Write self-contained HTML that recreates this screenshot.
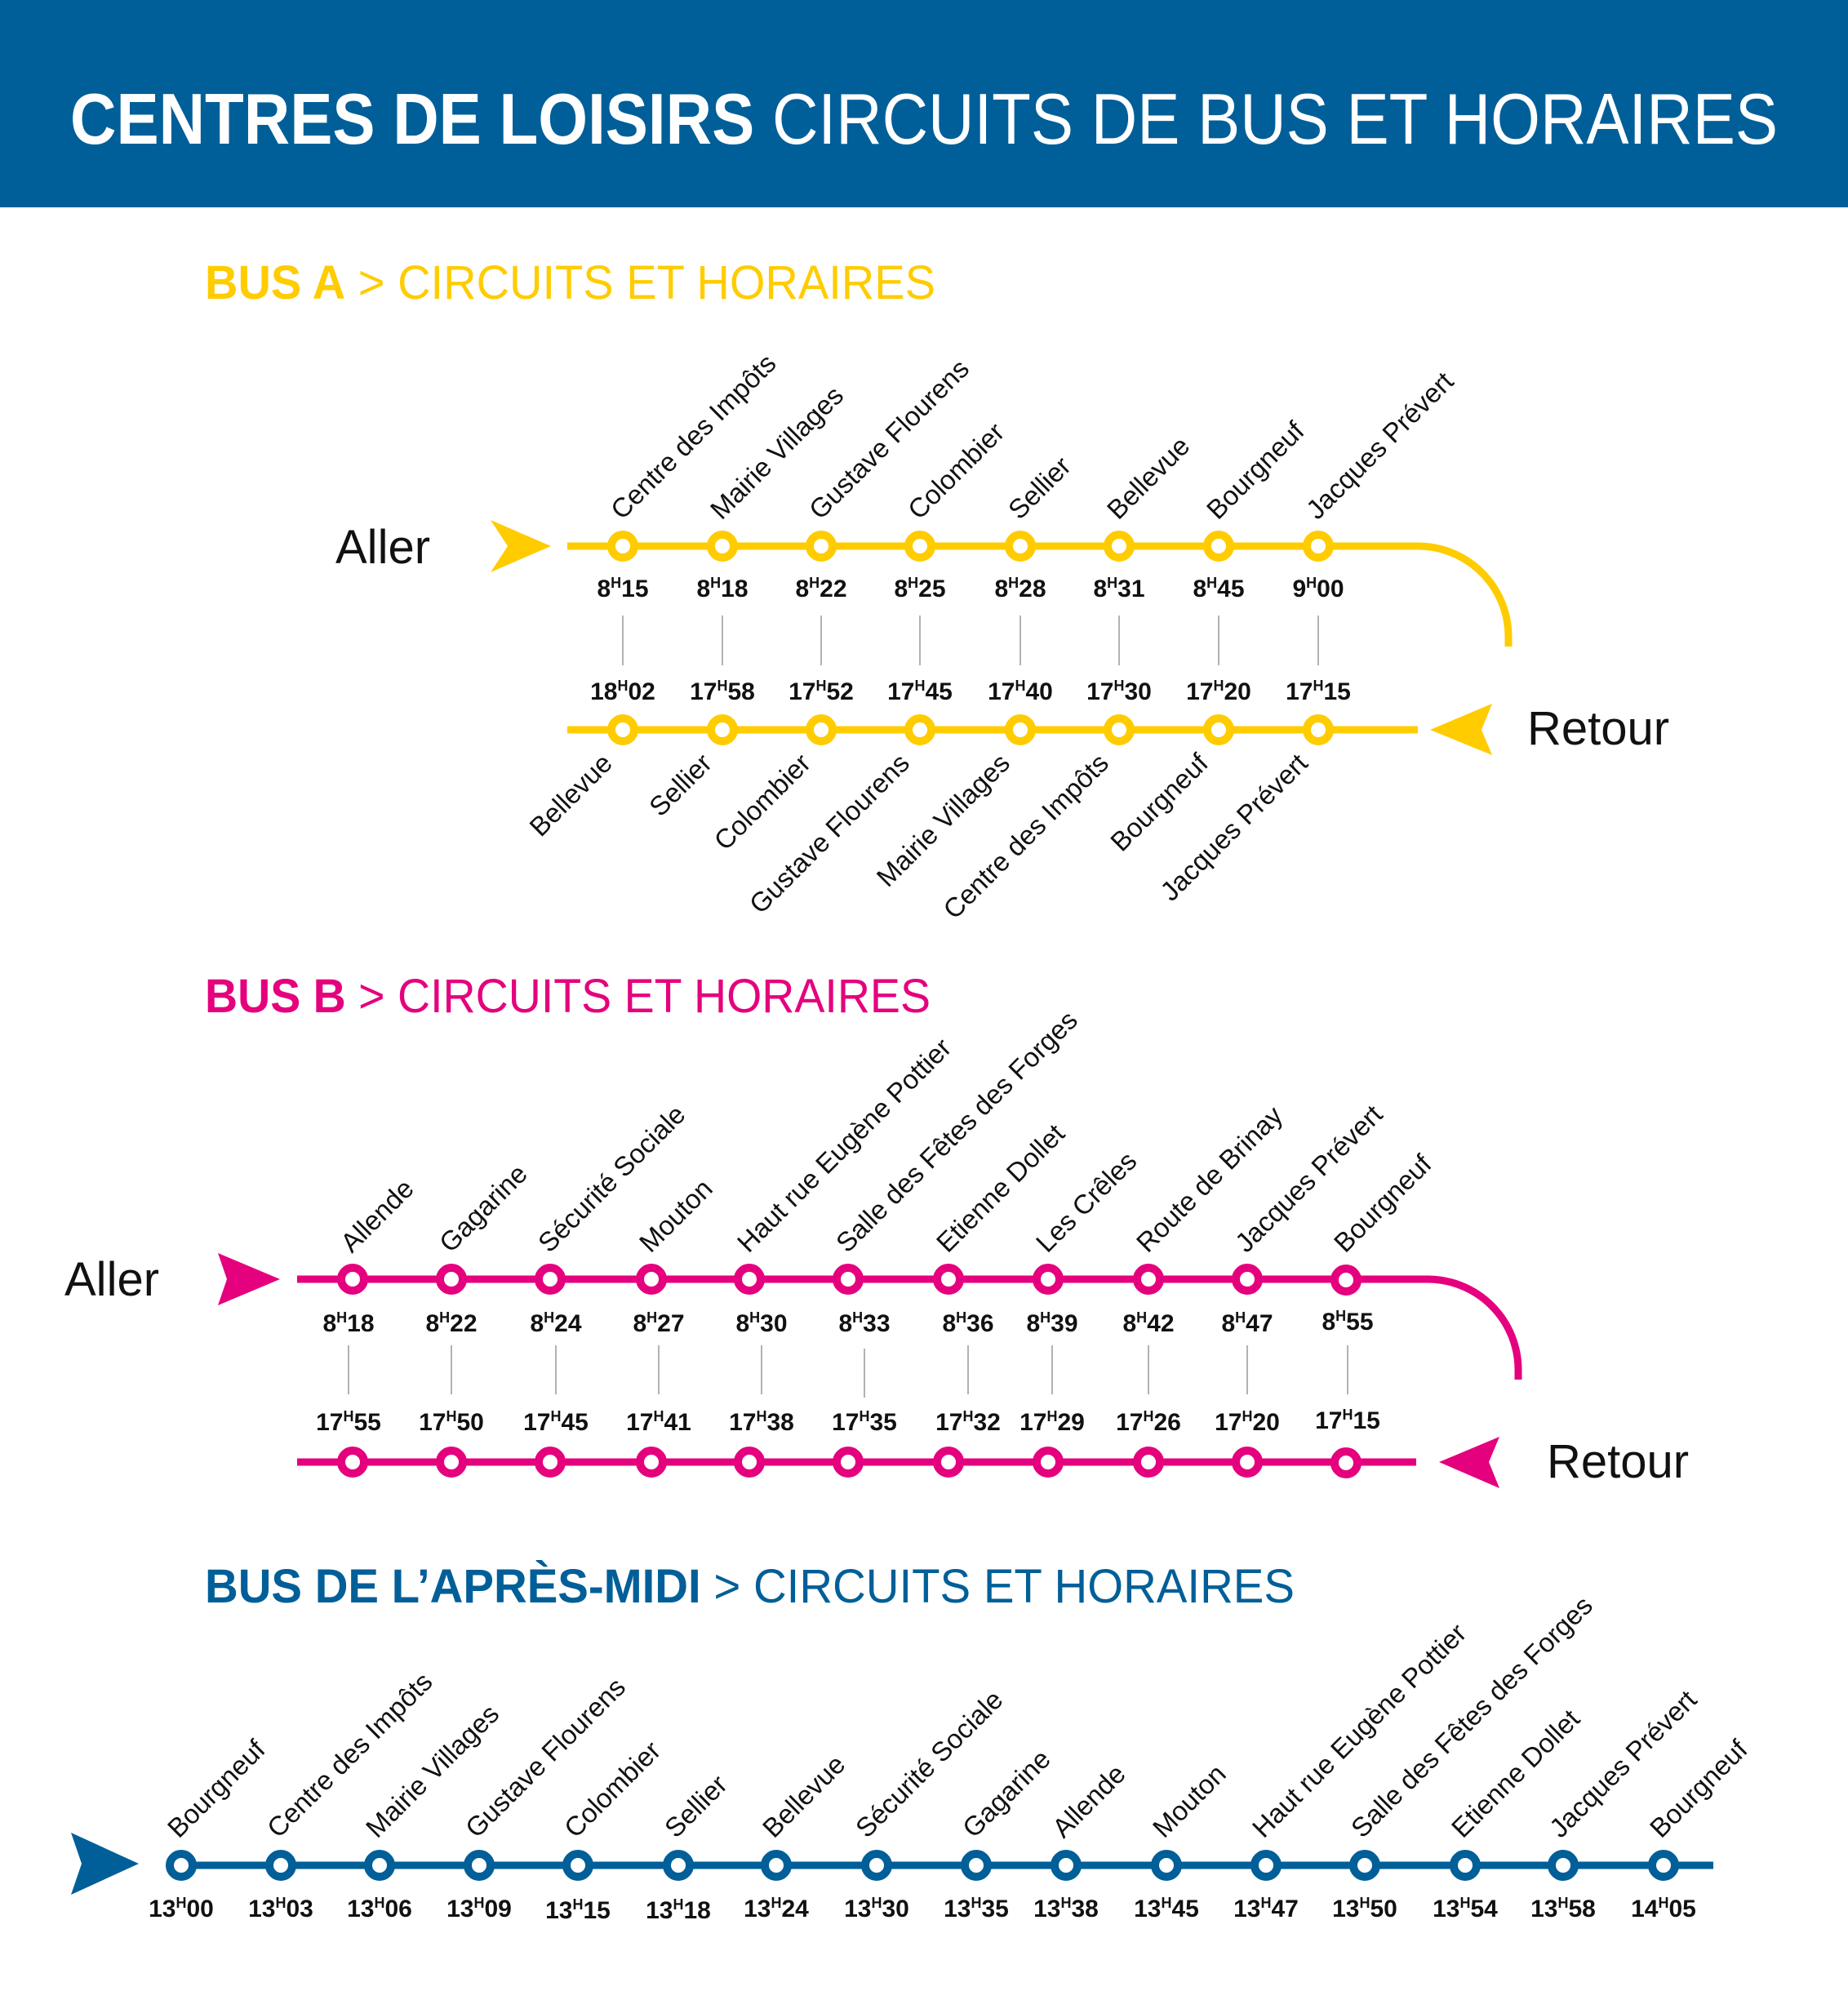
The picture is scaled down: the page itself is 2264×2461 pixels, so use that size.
<!DOCTYPE html>
<html><head><meta charset="utf-8"><style>
html,body{margin:0;padding:0;background:#fff}
svg{display:block}
.lbl{font-family:"Liberation Sans",sans-serif;font-size:33px;fill:#111}
.t{font-family:"Liberation Sans",sans-serif;font-size:30px;font-weight:bold;fill:#111;text-anchor:middle}
.big{font-family:"Liberation Sans",sans-serif;font-size:58px;fill:#111}
</style></head><body>
<svg width="2264" height="2461" viewBox="0 0 2264 2461" xmlns="http://www.w3.org/2000/svg">
<rect x="0" y="0" width="2264" height="254" fill="#005F98"/>
<text x="86" y="176" font-family="Liberation Sans,sans-serif" font-size="88" fill="#fff" textLength="2092" lengthAdjust="spacingAndGlyphs"><tspan font-weight="bold">CENTRES DE LOISIRS</tspan> CIRCUITS DE BUS ET HORAIRES</text>

<!-- BUS A -->
<text x="251" y="366" font-family="Liberation Sans,sans-serif" font-size="58" fill="#FFCC00" textLength="895" lengthAdjust="spacingAndGlyphs"><tspan font-weight="bold">BUS A</tspan> &gt; CIRCUITS ET HORAIRES</text>
<text class="big" x="411" y="690">Aller</text>
<text class="big" x="1871" y="912">Retour</text>
<polygon points="601,637 675,669 601,701 622,669" fill="#FFCC00"/>
<polygon points="1828,862 1752,894 1828,925 1815,894" fill="#FFCC00"/>
<path d="M695 669 H1737 A111 111 0 0 1 1848 780 V792" fill="none" stroke="#FFCC00" stroke-width="9"/>
<line x1="695" y1="894" x2="1737" y2="894" stroke="#FFCC00" stroke-width="9"/>
<g fill="#fff" stroke="#FFCC00" stroke-width="10">
<circle cx="763" cy="669" r="14"/><circle cx="885" cy="669" r="14"/><circle cx="1006" cy="669" r="14"/><circle cx="1127" cy="669" r="14"/><circle cx="1250" cy="669" r="14"/><circle cx="1371" cy="669" r="14"/><circle cx="1493" cy="669" r="14"/><circle cx="1615" cy="669" r="14"/>
<circle cx="763" cy="894" r="14"/><circle cx="885" cy="894" r="14"/><circle cx="1006" cy="894" r="14"/><circle cx="1127" cy="894" r="14"/><circle cx="1250" cy="894" r="14"/><circle cx="1371" cy="894" r="14"/><circle cx="1493" cy="894" r="14"/><circle cx="1615" cy="894" r="14"/>
</g>
<g stroke="#999" stroke-width="1.5">
<line x1="763" y1="754" x2="763" y2="815"/><line x1="885" y1="754" x2="885" y2="815"/><line x1="1006" y1="754" x2="1006" y2="815"/><line x1="1127" y1="754" x2="1127" y2="815"/><line x1="1250" y1="754" x2="1250" y2="815"/><line x1="1371" y1="754" x2="1371" y2="815"/><line x1="1493" y1="754" x2="1493" y2="815"/><line x1="1615" y1="754" x2="1615" y2="815"/>
</g>
<g class="lbl">
<text transform="translate(762,638) rotate(-45)">Centre des Impôts</text>
<text transform="translate(884,638) rotate(-45)">Mairie Villages</text>
<text transform="translate(1005,638) rotate(-45)">Gustave Flourens</text>
<text transform="translate(1126,638) rotate(-45)">Colombier</text>
<text transform="translate(1249,638) rotate(-45)">Sellier</text>
<text transform="translate(1370,638) rotate(-45)">Bellevue</text>
<text transform="translate(1492,638) rotate(-45)">Bourgneuf</text>
<text transform="translate(1614,638) rotate(-45)">Jacques Prévert</text>
</g>
<g class="lbl" text-anchor="end">
<text transform="translate(752,937) rotate(-45)">Bellevue</text>
<text transform="translate(874,937) rotate(-45)">Sellier</text>
<text transform="translate(995,937) rotate(-45)">Colombier</text>
<text transform="translate(1116,937) rotate(-45)">Gustave Flourens</text>
<text transform="translate(1239,937) rotate(-45)">Mairie Villages</text>
<text transform="translate(1360,937) rotate(-45)">Centre des Impôts</text>
<text transform="translate(1482,937) rotate(-45)">Bourgneuf</text>
<text transform="translate(1604,937) rotate(-45)">Jacques Prévert</text>
</g>
<g class="t">
<text x="763" y="731">8<tspan font-size="18" dy="-11">H</tspan><tspan dy="11">15</tspan></text>
<text x="885" y="731">8<tspan font-size="18" dy="-11">H</tspan><tspan dy="11">18</tspan></text>
<text x="1006" y="731">8<tspan font-size="18" dy="-11">H</tspan><tspan dy="11">22</tspan></text>
<text x="1127" y="731">8<tspan font-size="18" dy="-11">H</tspan><tspan dy="11">25</tspan></text>
<text x="1250" y="731">8<tspan font-size="18" dy="-11">H</tspan><tspan dy="11">28</tspan></text>
<text x="1371" y="731">8<tspan font-size="18" dy="-11">H</tspan><tspan dy="11">31</tspan></text>
<text x="1493" y="731">8<tspan font-size="18" dy="-11">H</tspan><tspan dy="11">45</tspan></text>
<text x="1615" y="731">9<tspan font-size="18" dy="-11">H</tspan><tspan dy="11">00</tspan></text>
<text x="763" y="857">18<tspan font-size="18" dy="-11">H</tspan><tspan dy="11">02</tspan></text>
<text x="885" y="857">17<tspan font-size="18" dy="-11">H</tspan><tspan dy="11">58</tspan></text>
<text x="1006" y="857">17<tspan font-size="18" dy="-11">H</tspan><tspan dy="11">52</tspan></text>
<text x="1127" y="857">17<tspan font-size="18" dy="-11">H</tspan><tspan dy="11">45</tspan></text>
<text x="1250" y="857">17<tspan font-size="18" dy="-11">H</tspan><tspan dy="11">40</tspan></text>
<text x="1371" y="857">17<tspan font-size="18" dy="-11">H</tspan><tspan dy="11">30</tspan></text>
<text x="1493" y="857">17<tspan font-size="18" dy="-11">H</tspan><tspan dy="11">20</tspan></text>
<text x="1615" y="857">17<tspan font-size="18" dy="-11">H</tspan><tspan dy="11">15</tspan></text>
</g>

<!-- BUS B -->
<text x="251" y="1240" font-family="Liberation Sans,sans-serif" font-size="58" fill="#E5007D" textLength="889" lengthAdjust="spacingAndGlyphs"><tspan font-weight="bold">BUS B</tspan> &gt; CIRCUITS ET HORAIRES</text>
<text class="big" x="79" y="1587">Aller</text>
<text class="big" x="1895" y="1810">Retour</text>
<polygon points="267,1535 343,1567 267,1599 278,1567" fill="#E5007D"/>
<polygon points="1837,1760 1763,1791 1837,1823 1824,1791" fill="#E5007D"/>
<path d="M364 1567 H1749 A111 111 0 0 1 1860 1678 V1690" fill="none" stroke="#E5007D" stroke-width="9"/>
<line x1="364" y1="1791" x2="1735" y2="1791" stroke="#E5007D" stroke-width="9"/>
<g fill="#fff" stroke="#E5007D" stroke-width="10">
<circle cx="432" cy="1567" r="14"/><circle cx="553" cy="1567" r="14"/><circle cx="674" cy="1567" r="14"/><circle cx="798" cy="1567" r="14"/><circle cx="918" cy="1567" r="14"/><circle cx="1039" cy="1567" r="14"/><circle cx="1162" cy="1567" r="14"/><circle cx="1284" cy="1567" r="14"/><circle cx="1407" cy="1567" r="14"/><circle cx="1528" cy="1567" r="14"/><circle cx="1649" cy="1568" r="14"/>
<circle cx="432" cy="1791" r="14"/><circle cx="553" cy="1791" r="14"/><circle cx="674" cy="1791" r="14"/><circle cx="798" cy="1791" r="14"/><circle cx="918" cy="1791" r="14"/><circle cx="1039" cy="1791" r="14"/><circle cx="1162" cy="1791" r="14"/><circle cx="1284" cy="1791" r="14"/><circle cx="1407" cy="1791" r="14"/><circle cx="1528" cy="1791" r="14"/><circle cx="1649" cy="1792" r="14"/>
</g>
<g stroke="#999" stroke-width="1.5">
<line x1="427" y1="1648" x2="427" y2="1708"/><line x1="553" y1="1648" x2="553" y2="1708"/><line x1="681" y1="1648" x2="681" y2="1708"/><line x1="807" y1="1648" x2="807" y2="1708"/><line x1="933" y1="1648" x2="933" y2="1708"/><line x1="1059" y1="1652" x2="1059" y2="1712"/><line x1="1186" y1="1648" x2="1186" y2="1708"/><line x1="1289" y1="1648" x2="1289" y2="1708"/><line x1="1407" y1="1648" x2="1407" y2="1708"/><line x1="1528" y1="1648" x2="1528" y2="1708"/><line x1="1651" y1="1648" x2="1651" y2="1708"/>
</g>
<g class="lbl">
<text transform="translate(431,1536) rotate(-45)">Allende</text>
<text transform="translate(552,1536) rotate(-45)">Gagarine</text>
<text transform="translate(673,1536) rotate(-45)">Sécurité Sociale</text>
<text transform="translate(797,1536) rotate(-45)">Mouton</text>
<text transform="translate(917,1536) rotate(-45)">Haut rue Eugène Pottier</text>
<text transform="translate(1038,1536) rotate(-45)">Salle des Fêtes des Forges</text>
<text transform="translate(1161,1536) rotate(-45)">Etienne Dollet</text>
<text transform="translate(1283,1536) rotate(-45)">Les Crêles</text>
<text transform="translate(1406,1536) rotate(-45)">Route de Brinay</text>
<text transform="translate(1527,1536) rotate(-45)">Jacques Prévert</text>
<text transform="translate(1648,1536) rotate(-45)">Bourgneuf</text>
</g>
<g class="t">
<text x="427" y="1631">8<tspan font-size="18" dy="-11">H</tspan><tspan dy="11">18</tspan></text>
<text x="553" y="1631">8<tspan font-size="18" dy="-11">H</tspan><tspan dy="11">22</tspan></text>
<text x="681" y="1631">8<tspan font-size="18" dy="-11">H</tspan><tspan dy="11">24</tspan></text>
<text x="807" y="1631">8<tspan font-size="18" dy="-11">H</tspan><tspan dy="11">27</tspan></text>
<text x="933" y="1631">8<tspan font-size="18" dy="-11">H</tspan><tspan dy="11">30</tspan></text>
<text x="1059" y="1631">8<tspan font-size="18" dy="-11">H</tspan><tspan dy="11">33</tspan></text>
<text x="1186" y="1631">8<tspan font-size="18" dy="-11">H</tspan><tspan dy="11">36</tspan></text>
<text x="1289" y="1631">8<tspan font-size="18" dy="-11">H</tspan><tspan dy="11">39</tspan></text>
<text x="1407" y="1631">8<tspan font-size="18" dy="-11">H</tspan><tspan dy="11">42</tspan></text>
<text x="1528" y="1631">8<tspan font-size="18" dy="-11">H</tspan><tspan dy="11">47</tspan></text>
<text x="1651" y="1629">8<tspan font-size="18" dy="-11">H</tspan><tspan dy="11">55</tspan></text>
<text x="427" y="1752">17<tspan font-size="18" dy="-11">H</tspan><tspan dy="11">55</tspan></text>
<text x="553" y="1752">17<tspan font-size="18" dy="-11">H</tspan><tspan dy="11">50</tspan></text>
<text x="681" y="1752">17<tspan font-size="18" dy="-11">H</tspan><tspan dy="11">45</tspan></text>
<text x="807" y="1752">17<tspan font-size="18" dy="-11">H</tspan><tspan dy="11">41</tspan></text>
<text x="933" y="1752">17<tspan font-size="18" dy="-11">H</tspan><tspan dy="11">38</tspan></text>
<text x="1059" y="1752">17<tspan font-size="18" dy="-11">H</tspan><tspan dy="11">35</tspan></text>
<text x="1186" y="1752">17<tspan font-size="18" dy="-11">H</tspan><tspan dy="11">32</tspan></text>
<text x="1289" y="1752">17<tspan font-size="18" dy="-11">H</tspan><tspan dy="11">29</tspan></text>
<text x="1407" y="1752">17<tspan font-size="18" dy="-11">H</tspan><tspan dy="11">26</tspan></text>
<text x="1528" y="1752">17<tspan font-size="18" dy="-11">H</tspan><tspan dy="11">20</tspan></text>
<text x="1651" y="1750">17<tspan font-size="18" dy="-11">H</tspan><tspan dy="11">15</tspan></text>
</g>

<!-- BUS APRES-MIDI -->
<text x="251" y="1963" font-family="Liberation Sans,sans-serif" font-size="58" fill="#005F98" textLength="1335" lengthAdjust="spacingAndGlyphs"><tspan font-weight="bold">BUS DE L’APRÈS-MIDI</tspan> &gt; CIRCUITS ET HORAIRES</text>
<polygon points="87,2245 170,2283 87,2321 100,2283" fill="#005F98"/>
<line x1="222" y1="2285" x2="2099" y2="2285" stroke="#005F98" stroke-width="9"/>
<g fill="#fff" stroke="#005F98" stroke-width="10">
<circle cx="222" cy="2285" r="14"/><circle cx="344" cy="2285" r="14"/><circle cx="465" cy="2285" r="14"/><circle cx="587" cy="2285" r="14"/><circle cx="708" cy="2285" r="14"/><circle cx="831" cy="2285" r="14"/><circle cx="951" cy="2285" r="14"/><circle cx="1074" cy="2285" r="14"/><circle cx="1196" cy="2285" r="14"/><circle cx="1306" cy="2285" r="14"/><circle cx="1429" cy="2285" r="14"/><circle cx="1551" cy="2285" r="14"/><circle cx="1672" cy="2285" r="14"/><circle cx="1795" cy="2285" r="14"/><circle cx="1915" cy="2285" r="14"/><circle cx="2038" cy="2285" r="14"/>
</g>
<g class="lbl">
<text transform="translate(219,2253) rotate(-45)">Bourgneuf</text>
<text transform="translate(341,2253) rotate(-45)">Centre des Impôts</text>
<text transform="translate(462,2253) rotate(-45)">Mairie Villages</text>
<text transform="translate(584,2253) rotate(-45)">Gustave Flourens</text>
<text transform="translate(705,2253) rotate(-45)">Colombier</text>
<text transform="translate(828,2253) rotate(-45)">Sellier</text>
<text transform="translate(948,2253) rotate(-45)">Bellevue</text>
<text transform="translate(1062,2253) rotate(-45)">Sécurité Sociale</text>
<text transform="translate(1193,2253) rotate(-45)">Gagarine</text>
<text transform="translate(1303,2253) rotate(-45)">Allende</text>
<text transform="translate(1426,2253) rotate(-45)">Mouton</text>
<text transform="translate(1548,2253) rotate(-45)">Haut rue Eugène Pottier</text>
<text transform="translate(1669,2253) rotate(-45)">Salle des Fêtes des Forges</text>
<text transform="translate(1792,2253) rotate(-45)">Etienne Dollet</text>
<text transform="translate(1912,2253) rotate(-45)">Jacques Prévert</text>
<text transform="translate(2035,2253) rotate(-45)">Bourgneuf</text>
</g>
<g class="t">
<text x="222" y="2348">13<tspan font-size="18" dy="-11">H</tspan><tspan dy="11">00</tspan></text>
<text x="344" y="2348">13<tspan font-size="18" dy="-11">H</tspan><tspan dy="11">03</tspan></text>
<text x="465" y="2348">13<tspan font-size="18" dy="-11">H</tspan><tspan dy="11">06</tspan></text>
<text x="587" y="2348">13<tspan font-size="18" dy="-11">H</tspan><tspan dy="11">09</tspan></text>
<text x="708" y="2350">13<tspan font-size="18" dy="-11">H</tspan><tspan dy="11">15</tspan></text>
<text x="831" y="2350">13<tspan font-size="18" dy="-11">H</tspan><tspan dy="11">18</tspan></text>
<text x="951" y="2348">13<tspan font-size="18" dy="-11">H</tspan><tspan dy="11">24</tspan></text>
<text x="1074" y="2348">13<tspan font-size="18" dy="-11">H</tspan><tspan dy="11">30</tspan></text>
<text x="1196" y="2348">13<tspan font-size="18" dy="-11">H</tspan><tspan dy="11">35</tspan></text>
<text x="1306" y="2348">13<tspan font-size="18" dy="-11">H</tspan><tspan dy="11">38</tspan></text>
<text x="1429" y="2348">13<tspan font-size="18" dy="-11">H</tspan><tspan dy="11">45</tspan></text>
<text x="1551" y="2348">13<tspan font-size="18" dy="-11">H</tspan><tspan dy="11">47</tspan></text>
<text x="1672" y="2348">13<tspan font-size="18" dy="-11">H</tspan><tspan dy="11">50</tspan></text>
<text x="1795" y="2348">13<tspan font-size="18" dy="-11">H</tspan><tspan dy="11">54</tspan></text>
<text x="1915" y="2348">13<tspan font-size="18" dy="-11">H</tspan><tspan dy="11">58</tspan></text>
<text x="2038" y="2348">14<tspan font-size="18" dy="-11">H</tspan><tspan dy="11">05</tspan></text>
</g>
</svg>
</body></html>
